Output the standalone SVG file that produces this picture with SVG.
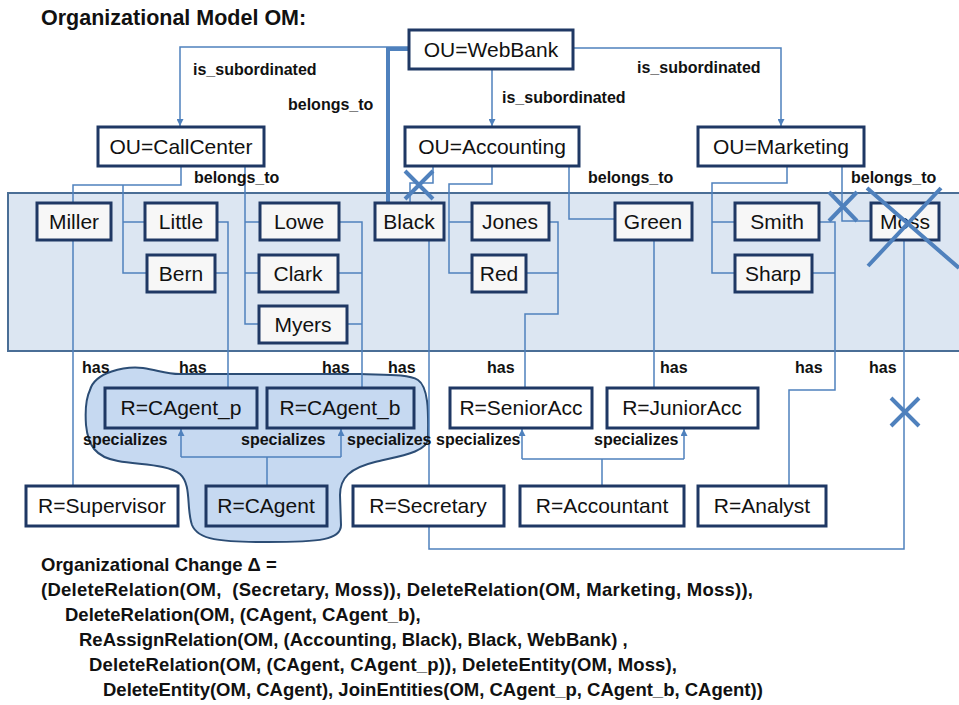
<svg xmlns="http://www.w3.org/2000/svg" width="959" height="705" viewBox="0 0 959 705">
  <defs>
    <marker id="arr" viewBox="0 0 10 10" refX="10" refY="5" markerWidth="7" markerHeight="7" orient="auto" markerUnits="userSpaceOnUse">
      <path d="M0,0 L10,5 L0,10 Z" fill="#4f81bd"/>
    </marker>
    <style>
      .box { fill: #ffffff; stroke: #1f3864; stroke-width: 3; }
      .person { fill: #f7f7f7; stroke: #1f3864; stroke-width: 3; }
      .inblob { fill: #c6d9f1; stroke: #1f3864; stroke-width: 3; }
      .nt { font-family: "Liberation Sans", Arial, sans-serif; font-size: 21px; fill: #111; text-anchor: middle; }
      .lbl { font-family: "Liberation Sans", Arial, sans-serif; font-size: 16px; font-weight: bold; fill: #111; }
      .big { font-family: "Liberation Sans", Arial, sans-serif; font-size: 18.5px; font-weight: bold; fill: #111; }
      .ln { fill: none; stroke: #4f81bd; stroke-width: 1.5; }
      .thick { fill: none; stroke: #4f81bd; stroke-width: 4; }
      .cross { fill: none; stroke: #4f81bd; stroke-width: 4; }
    </style>
  </defs>

  <!-- title -->
  <text x="41" y="25" class="big" style="font-size:21.5px">Organizational Model OM:</text>

  <!-- band holding the persons -->
  <rect x="8" y="193" width="960" height="158" fill="#dce6f2" stroke="#4a6e96" stroke-width="2"/>

  <!-- merged role region -->
  <path d="M90,390 C95,372 125,366 143,368 C158,370 165,374 180,374 L360,374 C385,375 408,374 418,380 C430,388 428,420 428,438 C428,452 400,456 375,462 C350,468 340,478 340,495 L341,525 C341,540 320,542 267,542 C220,542 198,540 192,525 C186,508 192,485 180,474 C168,464 140,465 118,461 C95,457 88,445 86,425 C85,410 86,398 90,390 Z" fill="#c6d9f1" stroke="#2c4d75" stroke-width="2"/>

  <!-- connectors -->
  <g id="connectors">
    <path class="ln" d="M409,47 H180 V126" marker-end="url(#arr)"/>
    <path class="ln" d="M492,69 V126" marker-end="url(#arr)"/>
    <path class="ln" d="M573,48 H781 V126" marker-end="url(#arr)"/>
    <path class="thick" d="M409,49 H388 V203"/>

    <path class="ln" d="M181,166 V185 H73 V203"/>
    <path class="ln" d="M123,185 V273 H147 M123,222 H145"/>
    <path class="ln" d="M245,166 V324 H259 M245,222 H260 M245,273 H259"/>

    <path class="ln" d="M433,166 V183 H410 V203"/>
    <path class="ln" d="M492,166 V184 H449 V273 H472 M449,222 H472"/>
    <path class="ln" d="M569,166 V219 H615"/>

    <path class="ln" d="M787,166 V183 H712 V273 H735 M712,222 H735"/>
    <path class="ln" d="M842,166 V221 H871"/>

    <path class="ln" d="M73,240 V486"/>
    <path class="ln" d="M217,222 H228 V388 M215,273 H228"/>
    <path class="ln" d="M339,222 H362 V388 M338,273 H362 M347,324 H362"/>
    <path class="ln" d="M429,240 V486"/>
    <path class="ln" d="M429,526 V549 H904 V240"/>
    <path class="ln" d="M549,222 H558 V314 H525 V388 M526,273 H558"/>
    <path class="ln" d="M654,240 V388"/>
    <path class="ln" d="M819,222 H835 V390 H789 V486 M812,273 H835"/>

    <path class="ln" d="M267,486 V457 M181,457 H341"/>
    <path class="ln" d="M181,457 V429" marker-end="url(#arr)"/>
    <path class="ln" d="M341,457 V429" marker-end="url(#arr)"/>
    <path class="ln" d="M602,486 V459 M522,459 H684"/>
    <path class="ln" d="M522,459 V429" marker-end="url(#arr)"/>
    <path class="ln" d="M684,459 V429" marker-end="url(#arr)"/>
  </g>

  <!-- organizational units -->
  <g id="ou-webbank"><rect class="box" x="409" y="30" width="164" height="39"/><text class="nt" x="491" y="57">OU=WebBank</text></g>
  <g id="ou-callcenter"><rect class="box" x="98" y="127" width="166" height="39"/><text class="nt" x="181" y="154">OU=CallCenter</text></g>
  <g id="ou-accounting"><rect class="box" x="405" y="127" width="174" height="39"/><text class="nt" x="492" y="154">OU=Accounting</text></g>
  <g id="ou-marketing"><rect class="box" x="698" y="127" width="166" height="39"/><text class="nt" x="781" y="154">OU=Marketing</text></g>

  <!-- persons -->
  <g id="p-miller"><rect class="person" x="37" y="203" width="74" height="37"/><text class="nt" x="74" y="229">Miller</text></g>
  <g id="p-little"><rect class="person" x="145" y="203" width="72" height="37"/><text class="nt" x="181" y="229">Little</text></g>
  <g id="p-bern"><rect class="person" x="147" y="255" width="68" height="37"/><text class="nt" x="181" y="281">Bern</text></g>
  <g id="p-lowe"><rect class="person" x="260" y="203" width="79" height="37"/><text class="nt" x="299" y="229">Lowe</text></g>
  <g id="p-clark"><rect class="person" x="259" y="255" width="79" height="37"/><text class="nt" x="298" y="281">Clark</text></g>
  <g id="p-myers"><rect class="person" x="259" y="306" width="88" height="37"/><text class="nt" x="303" y="332">Myers</text></g>
  <g id="p-black"><rect class="person" x="375" y="203" width="69" height="37"/><text class="nt" x="409" y="229">Black</text></g>
  <g id="p-jones"><rect class="person" x="472" y="203" width="77" height="37"/><text class="nt" x="510" y="229">Jones</text></g>
  <g id="p-red"><rect class="person" x="472" y="255" width="54" height="37"/><text class="nt" x="499" y="281">Red</text></g>
  <g id="p-green"><rect class="person" x="615" y="203" width="77" height="37"/><text class="nt" x="653" y="229">Green</text></g>
  <g id="p-smith"><rect class="person" x="735" y="203" width="84" height="37"/><text class="nt" x="777" y="229">Smith</text></g>
  <g id="p-sharp"><rect class="person" x="735" y="255" width="77" height="37"/><text class="nt" x="773" y="281">Sharp</text></g>
  <g id="p-moss"><rect class="person" x="871" y="203" width="68" height="37"/><text class="nt" x="905" y="229">Moss</text></g>

  <!-- roles -->
  <g id="r-cagent-p"><rect class="inblob" x="105" y="388" width="152" height="40"/><text class="nt" x="181" y="415">R=CAgent_p</text></g>
  <g id="r-cagent-b"><rect class="inblob" x="267" y="388" width="147" height="40"/><text class="nt" x="340" y="415">R=CAgent_b</text></g>
  <g id="r-cagent"><rect class="inblob" x="206" y="486" width="121" height="40"/><text class="nt" x="266" y="513">R=CAgent</text></g>
  <g id="r-supervisor"><rect class="box" x="26" y="486" width="152" height="40"/><text class="nt" x="102" y="513">R=Supervisor</text></g>
  <g id="r-secretary"><rect class="box" x="353" y="486" width="151" height="40"/><text class="nt" x="428" y="513">R=Secretary</text></g>
  <g id="r-senioracc"><rect class="box" x="450" y="388" width="142" height="40"/><text class="nt" x="521" y="415">R=SeniorAcc</text></g>
  <g id="r-junioracc"><rect class="box" x="607" y="388" width="151" height="40"/><text class="nt" x="682" y="415">R=JuniorAcc</text></g>
  <g id="r-accountant"><rect class="box" x="520" y="486" width="164" height="40"/><text class="nt" x="602" y="513">R=Accountant</text></g>
  <g id="r-analyst"><rect class="box" x="698" y="486" width="128" height="40"/><text class="nt" x="762" y="513">R=Analyst</text></g>

  <!-- relation labels -->
  <g id="labels">
    <text class="lbl" x="193" y="75">is_subordinated</text>
    <text class="lbl" x="502" y="103">is_subordinated</text>
    <text class="lbl" x="637" y="73">is_subordinated</text>
    <text class="lbl" x="288" y="110">belongs_to</text>
    <text class="lbl" x="194" y="183">belongs_to</text>
    <text class="lbl" x="588" y="183">belongs_to</text>
    <text class="lbl" x="851" y="183">belongs_to</text>
    <text class="lbl" x="82" y="373">has</text>
    <text class="lbl" x="179" y="373">has</text>
    <text class="lbl" x="322" y="373">has</text>
    <text class="lbl" x="388" y="373">has</text>
    <text class="lbl" x="487" y="373">has</text>
    <text class="lbl" x="660" y="373">has</text>
    <text class="lbl" x="795" y="373">has</text>
    <text class="lbl" x="869" y="373">has</text>
    <text class="lbl" x="83" y="445">specializes</text>
    <text class="lbl" x="241" y="445">specializes</text>
    <text class="lbl" x="347" y="445">specializes</text>
    <text class="lbl" x="436" y="445">specializes</text>
    <text class="lbl" x="594" y="445">specializes</text>
  </g>

  <!-- deletion marks -->
  <g id="deletions">
    <path class="cross" d="M405,171 L433,199 M433,171 L405,199"/>
    <path class="cross" d="M829,192 L857,221 M857,192 L829,221"/>
    <path class="cross" d="M867,188 L959,268 M941,188 L868,266"/>
    <path class="cross" d="M891,398 L919,426 M919,398 L891,426"/>
  </g>

  <!-- change description -->
  <g id="change">
    <text class="big" x="41" y="571">Organizational Change Δ =</text>
    <text class="big" x="41" y="596" xml:space="preserve" textLength="712">(DeleteRelation(OM,  (Secretary, Moss)), DeleteRelation(OM, Marketing, Moss)),</text>
    <text class="big" x="65" y="621">DeleteRelation(OM, (CAgent, CAgent_b),</text>
    <text class="big" x="79" y="646">ReAssignRelation(OM, (Accounting, Black), Black, WebBank) ,</text>
    <text class="big" x="89" y="671" textLength="588">DeleteRelation(OM, (CAgent, CAgent_p)), DeleteEntity(OM, Moss),</text>
    <text class="big" x="103" y="696">DeleteEntity(OM, CAgent), JoinEntities(OM, CAgent_p, CAgent_b, CAgent))</text>
  </g>
</svg>
